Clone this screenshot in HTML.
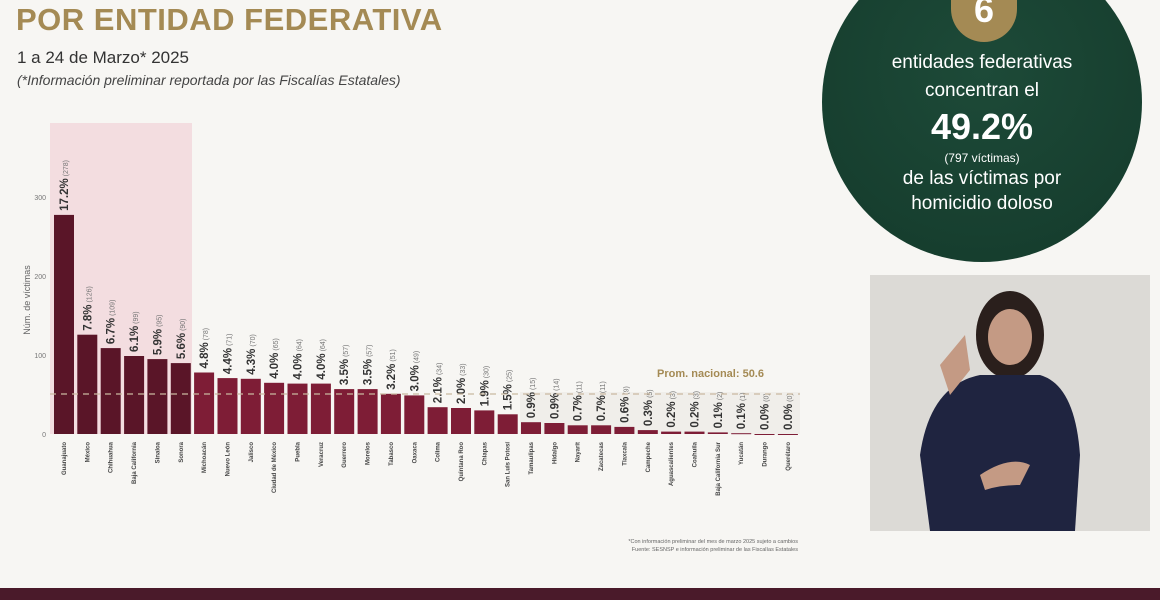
<!DOCTYPE html>
<html><head><meta charset="utf-8"><style>
body{margin:0;width:1160px;height:600px;overflow:hidden;background:#f7f6f3;font-family:"Liberation Sans",sans-serif;position:relative}
.t1{position:absolute;left:16px;top:0px;font-size:31px;font-weight:bold;color:#a48a54;letter-spacing:0.5px;line-height:40px;margin-top:0px}
.t2{position:absolute;left:17px;top:48px;font-size:17px;color:#333}
.t3{position:absolute;left:17px;top:72px;font-size:14px;font-style:italic;color:#444}
.circ{position:absolute;left:822px;top:-58px;width:320px;height:320px;border-radius:50%;background:radial-gradient(circle at 50% 40%,#1d4a38,#143a2b)}
.ct{position:absolute;left:822px;width:320px;text-align:center;color:#fff}
.six{position:absolute;left:951px;top:-18px;width:66px;height:60px;border-radius:0 0 33px 33px;background:#a48a54;color:#fff;font-weight:bold;font-size:36px;text-align:center;line-height:56px}
.foot{position:absolute;left:0;top:588px;width:1160px;height:12px;background:#4a1a2a}
.video{position:absolute;left:870px;top:275px;width:280px;height:256px;background:#d8d6d2}
</style></head><body>
<div class="t1">POR ENTIDAD FEDERATIVA</div>
<div class="t2">1 a 24 de Marzo* 2025</div>
<div class="t3">(*Información preliminar reportada por las Fiscalías Estatales)</div>
<div class="circ"></div>
<div class="six">6</div>
<div class="ct" style="top:52px;font-size:19px">entidades federativas</div>
<div class="ct" style="top:80px;font-size:19px">concentran el</div>
<div class="ct" style="top:106px;font-size:36px;font-weight:bold">49.2%</div>
<div class="ct" style="top:151px;font-size:12px">(797 víctimas)</div>
<div class="ct" style="top:168px;font-size:19px">de las víctimas por</div>
<div class="ct" style="top:193px;font-size:19px">homicidio doloso</div>
<div class="video">
<svg width="280" height="256">
<rect width="280" height="256" fill="#dcdad6"/>
<ellipse cx="140" cy="60" rx="34" ry="44" fill="#2a1f1c"/>
<ellipse cx="140" cy="62" rx="22" ry="28" fill="#c49a84"/>
<path d="M60 256 L50 180 Q60 110 110 100 L170 100 Q205 110 210 180 L205 256 Z" fill="#1f2440"/>
<path d="M70 90 L95 60 L100 95 L80 120 Z" fill="#c49a84"/>
<path d="M110 200 Q140 180 160 190 L150 210 Q130 210 115 215 Z" fill="#c49a84"/>
</svg></div>
<svg style="position:absolute;left:0;top:0" width="1160" height="600">
<rect x="50" y="123" width="142" height="311" fill="#f3dde0"/>
<rect x="520" y="392" width="280" height="42" fill="#ebe9e5" opacity="0.6"/>
<g font-size="7" fill="#777" text-anchor="end">
<text x="46" y="437">0</text><text x="46" y="358">100</text><text x="46" y="279">200</text><text x="46" y="200">300</text>
</g>
<text transform="translate(30,300) rotate(-90)" font-size="9" fill="#666" text-anchor="middle">Núm. de víctimas</text>
<g id="bars"></g>
<line x1="50" y1="394" x2="800" y2="394" stroke="#c9b9a0" stroke-dasharray="6,5" stroke-width="1.2"/>
<text x="657" y="377" font-size="11" font-weight="bold" fill="#a48a54">Prom. nacional: 50.6</text>
<text x="798" y="543" font-size="5.5" fill="#666" text-anchor="end">*Con información preliminar del mes de marzo 2025 sujeto a cambios</text>
<text x="798" y="551" font-size="5.5" fill="#666" text-anchor="end">Fuente: SESNSP e información preliminar de las Fiscalías Estatales</text>
</svg>
<div class="foot"></div>
<script>
var d=[["Guanajuato",278,"17.2%"],["México",126,"7.8%"],["Chihuahua",109,"6.7%"],["Baja California",99,"6.1%"],["Sinaloa",95,"5.9%"],["Sonora",90,"5.6%"],["Michoacán",78,"4.8%"],["Nuevo León",71,"4.4%"],["Jalisco",70,"4.3%"],["Ciudad de México",65,"4.0%"],["Puebla",64,"4.0%"],["Veracruz",64,"4.0%"],["Guerrero",57,"3.5%"],["Morelos",57,"3.5%"],["Tabasco",51,"3.2%"],["Oaxaca",49,"3.0%"],["Colima",34,"2.1%"],["Quintana Roo",33,"2.0%"],["Chiapas",30,"1.9%"],["San Luis Potosí",25,"1.5%"],["Tamaulipas",15,"0.9%"],["Hidalgo",14,"0.9%"],["Nayarit",11,"0.7%"],["Zacatecas",11,"0.7%"],["Tlaxcala",9,"0.6%"],["Campeche",5,"0.3%"],["Aguascalientes",3,"0.2%"],["Coahuila",3,"0.2%"],["Baja California Sur",2,"0.1%"],["Yucatán",1,"0.1%"],["Durango",0,"0.0%"],["Querétaro",0,"0.0%"]];
var s="";
d.forEach(function(r,i){var x=54+i*23.35,h=r[1]*0.788,y=434-h;var c=i<6?"#5a1528":"#7e1d36";
s+='<rect x="'+x.toFixed(1)+'" y="'+y.toFixed(1)+'" width="20" height="'+Math.max(h,1).toFixed(1)+'" fill="'+c+'"/>';
var cx=x+14;
s+='<text transform="translate('+cx.toFixed(1)+','+(y-4).toFixed(1)+') rotate(-90)" font-size="11.5" fill="#333"><tspan font-weight="bold">'+r[2]+'</tspan><tspan font-size="7" fill="#777"> ('+r[1]+')</tspan></text>';
s+='<text transform="translate('+(x+12).toFixed(1)+',442) rotate(-90)" font-size="6" font-weight="bold" fill="#444" text-anchor="end">'+r[0]+'</text>';});
document.getElementById("bars").innerHTML=s;
</script>
</body></html>
